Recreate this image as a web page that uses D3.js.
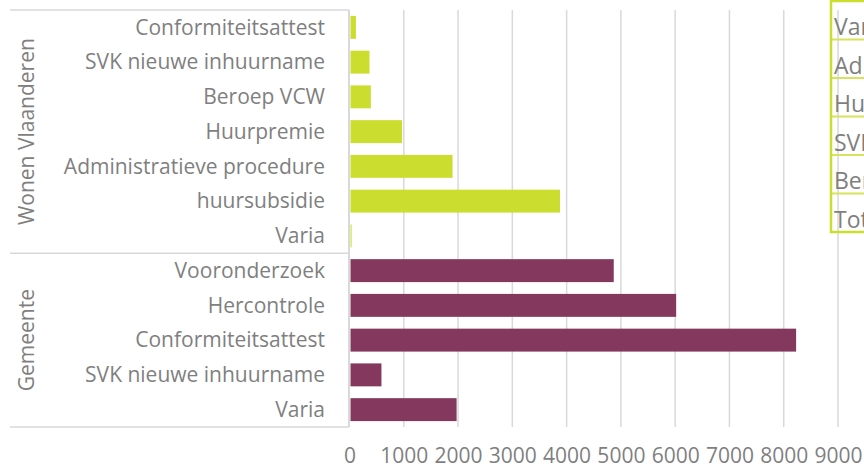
<!DOCTYPE html>
<html>
<head>
<meta charset="utf-8">
<script src="https://cdn.jsdelivr.net/npm/d3@7"></script>
<style>
  html, body { margin: 0; padding: 0; background: #fff; }
  svg { display: block; font-family: "Open Sans", "Noto Sans", sans-serif; }
</style>
</head>
<body>
<svg id="chart" width="864" height="468"></svg>
<script>
// ---- data ----
const groups = ["Wonen Vlaanderen", "Gemeente"];
const wonenCategories = ["Conformiteitsattest", "SVK nieuwe inhuurname", "Beroep VCW", "Huurpremie", "Administratieve procedure", "huursubsidie", "Varia"];
const wonenValues = [100, 350, 375, 950, 1880, 3860, 20];
const gemeenteCategories = ["Vooronderzoek", "Hercontrole", "Conformiteitsattest", "SVK nieuwe inhuurname", "Varia"];
const gemeenteValues = [4850, 6000, 8210, 570, 1955];
const tickValues = [0, 1000, 2000, 3000, 4000, 5000, 6000, 7000, 8000, 9000];
const tableRows = ["Varia", "Administratieve procedure", "Huurpremie", "SVK nieuwe inhuurname", "Beroep VCW", "Totaal"];

const colors = { "Wonen Vlaanderen": "#CBDE2F", "Gemeente": "#84385E" };

const rows = [];
wonenCategories.forEach((c, i) => rows.push({ key: "w" + i, group: groups[0], label: c, value: wonenValues[i] }));
gemeenteCategories.forEach((c, i) => rows.push({ key: "g" + i, group: groups[1], label: c, value: gemeenteValues[i] }));

const svg = d3.select("#chart");
const textColor = "#7F7F7F";
const lineColor = "#D9D9D9";
const fs = 21;

const x = d3.scaleLinear().domain([0, 9000]).range([349.5, 838]);
const y = d3.scaleBand().domain(rows.map(r => r.key)).range([10, 427]).paddingInner(0.34).paddingOuter(0.17);

// gridlines
svg.append("g").selectAll("line").data(tickValues.filter(t => t > 0)).join("line")
  .attr("x1", d => x(d)).attr("x2", d => x(d))
  .attr("y1", 10).attr("y2", 427)
  .attr("stroke", lineColor).attr("stroke-width", 1.5);

// x tick labels via axis
const xAxis = d3.axisBottom(x).tickValues(tickValues).tickSize(0).tickFormat(d3.format("d"));
const xg = svg.append("g").attr("transform", "translate(0,445)").call(xAxis);
xg.select(".domain").remove();
xg.selectAll("text").attr("fill", textColor).attr("font-size", fs).attr("font-family", "Open Sans, sans-serif");

// bars
svg.append("g").selectAll("rect").data(rows).join("rect")
  .attr("x", x(0) + 1)
  .attr("y", d => y(d.key))
  .attr("width", d => Math.max(0, x(d.value) - x(0)))
  .attr("height", y.bandwidth())
  .attr("fill", d => colors[d.group]);

// vertical axis line
svg.append("line").attr("x1", 349).attr("x2", 349).attr("y1", 10).attr("y2", 427)
  .attr("stroke", lineColor).attr("stroke-width", 2);

// category labels
svg.append("g").selectAll("text").data(rows).join("text")
  .attr("x", 325)
  .attr("y", d => y(d.key) + y.bandwidth() / 2)
  .attr("dy", "0.35em")
  .attr("text-anchor", "end")
  .attr("font-size", fs)
  .attr("fill", textColor)
  .text(d => d.label);

// group separators
const step = y.step();
const sepYs = [10, y("g0") - (step - y.bandwidth()) / 2, 427];
svg.append("g").selectAll("line").data(sepYs).join("line")
  .attr("x1", 10).attr("x2", 349).attr("y1", d => d).attr("y2", d => d)
  .attr("stroke", lineColor).attr("stroke-width", 1.5);

// group labels
const groupSpans = [[10, sepYs[1]], [sepYs[1], 427]];
svg.append("g").selectAll("text").data(groups).join("text")
  .attr("transform", (d, i) => `translate(27,${(groupSpans[i][0] + groupSpans[i][1]) / 2}) rotate(-90)`)
  .attr("dy", "0.35em")
  .attr("text-anchor", "middle")
  .attr("font-size", fs)
  .attr("fill", textColor)
  .text(d => d);

// clipped table at right (partly outside the picture, as in the reference)
const tbl = svg.append("g");
const rowH = 38.5, tTop = 1, tLeft = 831;
tbl.selectAll("line.row").data(d3.range(1, tableRows.length)).join("line")
  .attr("x1", tLeft).attr("x2", 864)
  .attr("y1", d => tTop + d * rowH).attr("y2", d => tTop + d * rowH)
  .attr("stroke", "#D6E35C").attr("stroke-width", 2);
tbl.append("rect").attr("x", tLeft).attr("y", tTop).attr("width", 60).attr("height", rowH * tableRows.length)
  .attr("fill", "none").attr("stroke", "#CBDE2F").attr("stroke-width", 2.5);
tbl.selectAll("text").data(tableRows).join("text")
  .attr("x", tLeft + 3)
  .attr("y", (d, i) => tTop + i * rowH + 34)
  .attr("font-size", 23)
  .attr("fill", textColor)
  .text(d => d);
</script>
</body>
</html>
